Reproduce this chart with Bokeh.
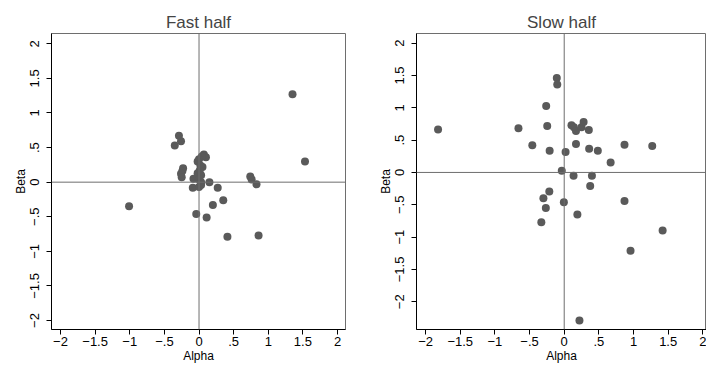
from bokeh.plotting import figure
from bokeh.layouts import row
from bokeh.models import Span, FixedTicker, CustomJSTickFormatter, Range1d
from bokeh.embed import file_html
from bokeh.resources import INLINE

# ---- data ----
fast_alpha = [1.35, 1.53, -0.29, -0.26, -0.35, -1.01, -0.23, -0.24, -0.26, -0.25,
              0.07, 0.10, 0.04, 0.00, -0.02, 0.05, 0.02, 0.01, -0.02, 0.03,
              -0.08, 0.00, 0.03, 0.15, -0.09, 0.00, 0.03, 0.27, 0.35, 0.20,
              -0.04, 0.11, 0.41, 0.86, 0.74, 0.76, 0.83]
fast_beta = [1.27, 0.30, 0.67, 0.59, 0.53, -0.35, 0.20, 0.16, 0.12, 0.07,
             0.40, 0.36, 0.37, 0.33, 0.30, 0.22, 0.24, 0.17, 0.13, 0.10,
             0.05, 0.04, 0.00, 0.00, -0.08, -0.07, -0.04, -0.08, -0.26, -0.33,
             -0.46, -0.51, -0.79, -0.77, 0.08, 0.04, -0.03]

slow_alpha = [-1.82, -0.66, -0.46, -0.26, -0.245, -0.21, -0.107, -0.10, 0.02, -0.035,
              0.105, 0.14, 0.17, 0.25, 0.28, 0.355, 0.17, 0.36, 0.485, 0.67,
              0.87, 1.27, 0.135, 0.40, 0.375, -0.215, -0.30, -0.265, -0.33, -0.005,
              0.19, 0.87, 1.42, 0.957, 0.22]
slow_beta = [0.665, 0.685, 0.42, 1.03, 0.72, 0.335, 1.46, 1.36, 0.315, 0.025,
             0.73, 0.70, 0.64, 0.70, 0.78, 0.655, 0.44, 0.365, 0.335, 0.155,
             0.43, 0.41, -0.05, -0.05, -0.21, -0.295, -0.40, -0.55, -0.77, -0.46,
             -0.65, -0.44, -0.90, -1.21, -2.29]

tick_values = [-2, -1.5, -1, -0.5, 0, 0.5, 1, 1.5, 2]
tick_labels = ["\u22122", "\u22121.5", "\u22121", "\u2212.5", "0", ".5", "1", "1.5", "2"]

titles = ["Fast half", "Slow half"]

FONT = "Liberation Sans"
MARK = "#5a5a5a"


def make_panel(title, xs, ys, xr, yr, width, bl, br, title_offset=0):
    p = figure(width=width, height=365, output_backend="svg", toolbar_location=None,
               x_range=Range1d(*xr), y_range=Range1d(*yr),
               min_border_left=bl, min_border_right=br, min_border_top=33,
               min_border_bottom=36, title=title)
    p.title.text_font = FONT
    p.title.text_font_size = "17px"
    p.title.text_font_style = "normal"
    p.title.align = "center"
    p.title.standoff = 4
    p.title.offset = title_offset
    p.grid.visible = False
    p.outline_line_color = "#6e6e6e"
    p.outline_line_width = 1
    fmt = CustomJSTickFormatter(args=dict(vals=tick_values, labs=tick_labels), code="""
        for (let i = 0; i < vals.length; i++) {
            if (Math.abs(vals[i] - tick) < 1e-9) return labs[i];
        }
        return "";
    """)
    for ax in (p.xaxis[0], p.yaxis[0]):
        ax.ticker = FixedTicker(ticks=tick_values)
        ax.formatter = fmt
        ax.minor_tick_line_color = None
        ax.major_tick_in = 0
        ax.major_tick_out = 5
        ax.axis_line_color = "black"
        ax.major_tick_line_color = "black"
        ax.major_label_text_font = FONT
        ax.major_label_text_font_size = "13px"
        ax.major_label_text_color = "black"
        ax.axis_label_text_font = FONT
        ax.axis_label_text_font_size = "12px"
        ax.axis_label_text_font_style = "normal"
        ax.axis_label_text_color = "black"
    p.xaxis.axis_label = "Alpha"
    p.yaxis.axis_label = "Beta"
    p.yaxis.major_label_orientation = "vertical"
    p.xaxis.major_label_standoff = 2
    p.yaxis.major_label_standoff = 7
    p.xaxis.axis_label_standoff = 0
    p.yaxis.axis_label_standoff = 0
    p.add_layout(Span(location=0, dimension="height", line_color="#6e6e6e", line_width=1))
    p.add_layout(Span(location=0, dimension="width", line_color="#6e6e6e", line_width=1))
    p.scatter(xs, ys, size=8, fill_color=MARK, line_color=None)
    return p


p1 = make_panel(titles[0], fast_alpha, fast_beta, (-2.13, 2.115), (-2.13, 2.149), 373, 51, 28)
p2 = make_panel(titles[1], slow_alpha, slow_beta, (-2.131, 2.053), (-2.43, 2.15), 333, 43, 0, title_offset=2.5)

layout = row(p1, p2)
open("out.html", "w").write(file_html(layout, INLINE))
